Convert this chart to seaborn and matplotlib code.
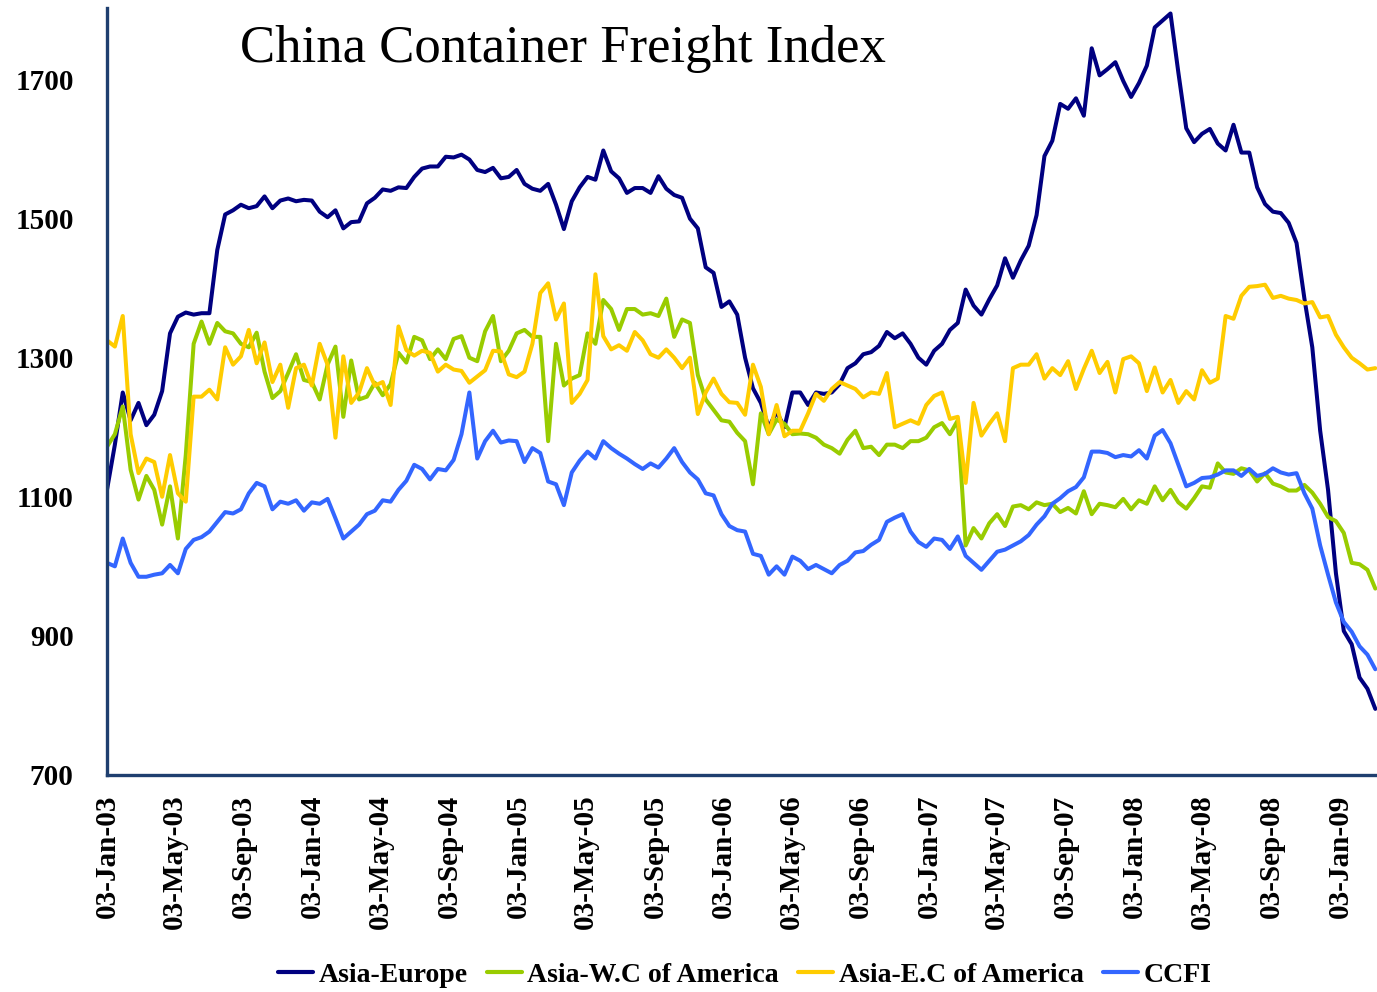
import pandas as pd
import matplotlib
matplotlib.use("Agg")
import matplotlib.pyplot as plt
import matplotlib.dates as mdates
import seaborn as sns

# Weekly index, read every second week off the chart (first Friday = 03-Jan-03)
start_date = "2003-01-03"
step = "14D"

asia_europe = [1110, 1175, 1250, 1210, 1235, 1203, 1218, 1252, 1335, 1359,
               1365, 1362, 1364, 1364, 1455, 1506, 1512, 1520, 1515, 1518,
               1532, 1515, 1526, 1529, 1525, 1527, 1526, 1510, 1502, 1512,
               1486, 1495, 1496, 1522, 1530, 1542, 1540, 1545, 1544, 1560,
               1572, 1575, 1575, 1589, 1588, 1592, 1585, 1570, 1567, 1573,
               1558, 1560, 1570, 1550, 1543, 1540, 1550, 1520, 1485, 1525,
               1545, 1560, 1556, 1598, 1568, 1558, 1537, 1544, 1544, 1537,
               1561, 1543, 1534, 1530, 1500, 1486, 1430, 1422, 1373, 1381,
               1362, 1300, 1256, 1235, 1200, 1222, 1200, 1250, 1250, 1232,
               1250, 1248, 1250, 1262, 1285, 1292, 1305, 1308, 1317, 1337,
               1328, 1335, 1320, 1300, 1290, 1310, 1320, 1340, 1350, 1398,
               1375, 1362, 1384, 1404, 1443, 1415, 1440, 1461, 1505, 1590,
               1612, 1665, 1658, 1673, 1648, 1745, 1706, 1715, 1725, 1698,
               1675, 1695, 1720, 1775, 1785, 1795, 1710, 1630, 1610, 1622,
               1629, 1608, 1598, 1635, 1595, 1595, 1545, 1521, 1510, 1508,
               1494, 1465, 1385, 1315, 1195, 1110, 990, 907, 888, 840,
               824, 795]

asia_wc = [1172, 1190, 1230, 1139, 1096, 1130, 1110, 1060, 1115, 1040,
           1160, 1320, 1352, 1320, 1350, 1338, 1335, 1320, 1315, 1336,
           1280, 1242, 1252, 1278, 1305, 1268, 1265, 1240, 1290, 1316,
           1215, 1296, 1240, 1244, 1264, 1246, 1262, 1307, 1293, 1330,
           1325, 1298, 1312, 1298, 1327, 1331, 1300, 1295, 1338, 1360,
           1295, 1310, 1335, 1340, 1330, 1330, 1180, 1320, 1260, 1270,
           1275, 1335, 1320, 1383, 1370, 1340, 1370, 1370, 1362, 1364,
           1360, 1385, 1330, 1355, 1350, 1275, 1240, 1225, 1210, 1208,
           1192, 1180, 1118, 1220, 1190, 1211, 1205, 1190, 1191, 1190,
           1185, 1175, 1170, 1162, 1182, 1195, 1170, 1172, 1160, 1175,
           1175, 1170, 1180, 1180, 1185, 1200, 1206, 1190, 1210, 1030,
           1055, 1040, 1062, 1075, 1058, 1086, 1088, 1082, 1092, 1088,
           1090, 1078, 1084, 1076, 1108, 1075, 1090, 1088, 1085, 1097,
           1082, 1095, 1090, 1115, 1095, 1110, 1092, 1083, 1098, 1115,
           1113, 1148, 1135, 1133, 1141, 1138, 1122, 1134, 1119, 1115,
           1109, 1109, 1117, 1106, 1090, 1071, 1065, 1048, 1005, 1003,
           995, 968]

asia_ec = [1325, 1316, 1360, 1190, 1134, 1155, 1150, 1100, 1160, 1105,
           1093, 1244, 1244, 1254, 1240, 1315, 1290, 1302, 1340, 1292,
           1322, 1265, 1290, 1228, 1285, 1290, 1260, 1320, 1290, 1185,
           1302, 1235, 1250, 1285, 1260, 1265, 1232, 1345, 1311, 1303,
           1310, 1307, 1280, 1290, 1283, 1281, 1264, 1273, 1282, 1310,
           1309, 1276, 1272, 1280, 1320, 1393, 1407, 1355, 1378, 1235,
           1248, 1268, 1420, 1331, 1312, 1318, 1310, 1337, 1325, 1305,
           1300, 1312, 1300, 1285, 1300, 1219, 1250, 1270, 1248, 1236,
           1235, 1218, 1290, 1258, 1190, 1232, 1187, 1195, 1195, 1220,
           1248, 1238, 1255, 1265, 1260, 1255, 1243, 1250, 1248, 1278,
           1200, 1205, 1210, 1205, 1232, 1245, 1250, 1212, 1215, 1120,
           1235, 1188, 1205, 1220, 1180, 1285, 1290, 1290, 1305, 1270,
           1285, 1275, 1295, 1255, 1284, 1310, 1278, 1294, 1250, 1298,
           1302, 1292, 1252, 1286, 1250, 1268, 1235, 1252, 1240, 1282,
           1264, 1270, 1360, 1356, 1389, 1402, 1403, 1405, 1386, 1389,
           1385, 1383, 1378, 1380, 1358, 1360, 1333, 1315, 1300, 1292,
           1283, 1285]

ccfi = [1005, 1000, 1040, 1005, 985, 985, 988, 990, 1002, 990,
        1025, 1038, 1042, 1050, 1064, 1078, 1076, 1082, 1105, 1120,
        1115, 1082, 1093, 1090, 1095, 1080, 1092, 1090, 1097, 1069,
        1040, 1050, 1060, 1075, 1080, 1095, 1093, 1110, 1123, 1146,
        1140, 1125, 1140, 1138, 1153, 1190, 1250, 1155, 1180, 1195,
        1178, 1181, 1180, 1150, 1170, 1163, 1122, 1118, 1088, 1135,
        1152, 1165, 1155, 1180, 1170, 1162, 1155, 1147, 1140, 1148,
        1142, 1155, 1170, 1150, 1135, 1125, 1105, 1102, 1075, 1058,
        1052, 1050, 1018, 1015, 988, 1000, 988, 1014, 1008, 996,
        1002, 996, 990, 1002, 1008, 1020, 1022, 1031, 1038, 1064,
        1070, 1075, 1050, 1035, 1028, 1040, 1038, 1025, 1043, 1015,
        1005, 995, 1008, 1021, 1024, 1030, 1036, 1045, 1060, 1072,
        1090, 1098, 1108, 1114, 1128, 1165, 1165, 1163, 1157, 1160,
        1158, 1167, 1155, 1188, 1196, 1177, 1146, 1115, 1120, 1127,
        1128, 1132, 1138, 1138, 1130, 1140, 1130, 1133, 1141, 1135,
        1132, 1134, 1105, 1083, 1030, 988, 948, 920, 906, 885,
        873, 852]

routes = ["Asia-Europe", "Asia-W.C of America", "Asia-E.C of America", "CCFI"]
colors = ["#000080", "#99CC00", "#FFCC00", "#3366FF"]
y_ticks = [700, 900, 1100, 1300, 1500, 1700]

dates = pd.date_range(start_date, periods=len(ccfi), freq=step)
df = pd.DataFrame({"date": dates,
                   routes[0]: asia_europe,
                   routes[1]: asia_wc,
                   routes[2]: asia_ec,
                   routes[3]: ccfi})
long_df = df.melt(id_vars="date", var_name="route", value_name="index")

sns.set_style("white")
plt.rcParams["font.family"] = ["Liberation Serif", "DejaVu Serif"]
plt.rcParams["text.color"] = "black"

axis_col = "#1F3F6F"
fig = plt.figure(figsize=(13.77, 9.92), dpi=100)
ax = fig.add_axes([0.0777, 0.2188, 0.9223, 0.7732])

sns.lineplot(data=long_df, x="date", y="index", hue="route", hue_order=routes,
             palette=dict(zip(routes, colors)), linewidth=2.9, ax=ax)

ax.set_xlim(pd.Timestamp("2003-01-03"), pd.Timestamp("2009-03-09"))
ax.set_ylim(700, 1803)
ax.set_yticks(y_ticks)
ax.xaxis.set_major_locator(mdates.MonthLocator(bymonth=[1, 5, 9], bymonthday=3))
ax.xaxis.set_major_formatter(mdates.DateFormatter("%d-%b-%y"))
ax.set_xlabel("")
ax.set_ylabel("")

for s in ["top", "right"]:
    ax.spines[s].set_visible(False)
for s in ["left", "bottom"]:
    ax.spines[s].set_color(axis_col)
    ax.spines[s].set_linewidth(2.4)

ax.tick_params(axis="y", direction="in", length=8, width=2, color=axis_col,
               pad=24, labelsize=21, labelcolor="black")
ax.tick_params(axis="x", direction="in", length=8, width=2, color=axis_col,
               pad=14, labelsize=21, labelrotation=90, labelcolor="black")
for lab in ax.get_xticklabels() + ax.get_yticklabels():
    lab.set_fontweight("bold")

ax.text(0.105, 0.946, "China Container Freight Index", transform=ax.transAxes,
        fontsize=38, va="center", ha="left", color="black")

sns.move_legend(ax, "center", bbox_to_anchor=(0.502, -0.261), ncol=4,
                frameon=False, title=None, handlelength=1.25,
                handletextpad=0.2, columnspacing=0.7,
                prop={"size": 20, "weight": "bold"})
for txt in ax.get_legend().get_texts():
    txt.set_color("black")
for line in ax.get_legend().get_lines():
    line.set_linewidth(3)

fig.savefig("out.png", dpi=100)
